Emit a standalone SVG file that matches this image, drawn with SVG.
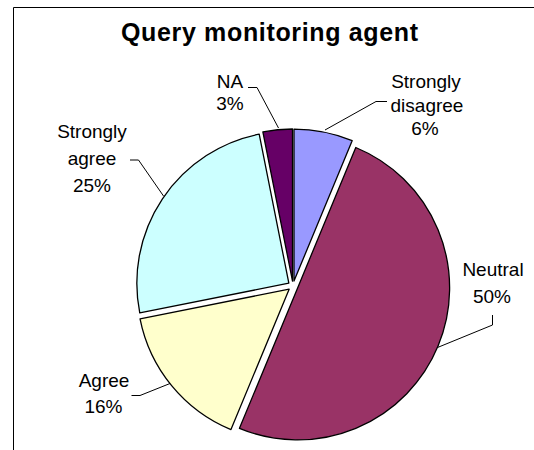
<svg xmlns="http://www.w3.org/2000/svg" width="534" height="450" viewBox="0 0 534 450">
<style>
.slice{stroke:#000;stroke-width:1.3;stroke-linejoin:round}
.lbl{font-family:"Liberation Sans",Arial,sans-serif;font-size:19px;fill:#000;text-anchor:middle}
.title{font-family:"Liberation Sans",Arial,sans-serif;font-size:25px;font-weight:bold;fill:#000;text-anchor:middle}
.lead{fill:none;stroke:#000;stroke-width:1}
</style>
<rect width="534" height="450" fill="#fff"/>
<path d="M13.5,450 V7.5 H534" fill="none" stroke="#000" stroke-width="1"/>
<text class="title" x="269.5" y="41" textLength="297" lengthAdjust="spacing">Query monitoring agent</text>
<g id="slice-strongly-disagree"><path class="slice" fill="#9999FF" d="M293.98,281.10 L293.98,129.10 A152,152 0 0,1 352.15,140.67 Z"/></g>
<g id="slice-neutral"><path class="slice" fill="#993366" d="M297.62,287.91 L355.79,147.48 A152,152 0 0,1 438.05,346.08 A152,152 0 0,1 239.45,428.34 Z"/></g>
<g id="slice-agree"><path class="slice" fill="#FFFFCC" d="M289.13,289.17 L230.96,429.60 A152,152 0 0,1 140.05,318.82 Z"/></g>
<g id="slice-strongly-agree"><path class="slice" fill="#CCFFFF" d="M288.84,283.22 L139.76,312.87 A152,152 0 0,1 259.19,134.14 Z"/></g>
<g id="slice-na"><path class="slice" fill="#660066" d="M292.51,281.02 L262.86,131.94 A152,152 0 0,1 292.51,129.02 Z"/></g>
<g id="connectors">
<path class="lead" d="M387,101.5 H376 L325,130"/>
<path class="lead" d="M248,87.5 H257 L278.5,128"/>
<path class="lead" d="M130,160 H138.5 L163.5,196"/>
<path class="lead" d="M492.5,315 V325 L437.5,347.5"/>
<path class="lead" d="M131.5,395.5 H140 L170,383.5"/>
</g>
<g id="label-strongly-disagree"><text class="lbl" x="426" y="88">Strongly</text><text class="lbl" x="427" y="111.5">disagree</text><text class="lbl" x="425" y="135">6%</text></g>
<g id="label-na"><text class="lbl" x="230" y="88">NA</text><text class="lbl" x="230" y="110">3%</text></g>
<g id="label-strongly-agree"><text class="lbl" x="92" y="138.3">Strongly</text><text class="lbl" x="92" y="164.7">agree</text><text class="lbl" x="92" y="191.7">25%</text></g>
<g id="label-neutral"><text class="lbl" x="493" y="276">Neutral</text><text class="lbl" x="492" y="303.3">50%</text></g>
<g id="label-agree"><text class="lbl" x="104" y="387.3">Agree</text><text class="lbl" x="103.5" y="413.3">16%</text></g>
</svg>
